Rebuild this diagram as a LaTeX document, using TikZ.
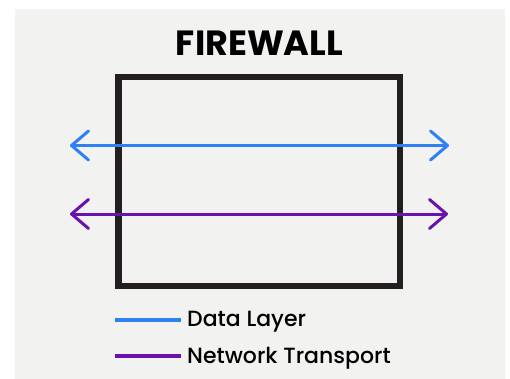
\documentclass[tikz,border=0pt]{standalone}
\usepackage{fontspec}
\setmainfont{Poppins}
\newfontfamily\medfont{Poppins Medium}
\usetikzlibrary{arrows.meta}
\definecolor{bg}{HTML}{F2F2F0}
\definecolor{datablue}{HTML}{2F7FF5}
\definecolor{netpurple}{HTML}{6A12AE}
\definecolor{wallc}{HTML}{231F20}
\tikzset{
  barb/.tip={Straight Barb[length=17pt,width=29pt,round]},
  flow/.style={line width=3pt,line cap=round,barb-barb},
  legline/.style={line width=3.5pt},
  legtext/.style={anchor=base west,inner sep=0pt,font=\medfont\fontsize{22}{22}\selectfont},
}
\begin{document}
\begin{tikzpicture}[x=1pt,y=-1pt]
\useasboundingbox (0,0) rectangle (510,379);
\fill[white] (0,0) rectangle (510,379);
\fill[bg] (15,9) rectangle (505,379);
\node[draw=wallc,line width=6.5pt,minimum width=281.5pt,minimum height=209pt,inner sep=0pt] (wall) at (259.25,181.5) {};
\node[anchor=base,inner sep=0pt,font=\bfseries\fontsize{35}{35}\selectfont] (title) at (259.5,56) {FIREWALL};
\coordinate (dl) at (70,145.5);
\coordinate (dr) at (449,145.5);
\coordinate (nl) at (70,214);
\coordinate (nr) at (448,214);
\draw[flow,datablue] (dl) -- (dr);
\draw[flow,netpurple] (nl) -- (nr);
\node[legtext] (t1) at (187,326) {Data Layer};
\node[legtext] (t2) at (187,363) {Network Transport};
\coordinate (l1) at (115,320);
\coordinate (l2) at (115,356);
\draw[legline,datablue] (l1) -- ([xshift=-6pt]l1 -| t1.west);
\draw[legline,netpurple] (l2) -- ([xshift=-6pt]l2 -| t2.west);
\end{tikzpicture}
\end{document}
